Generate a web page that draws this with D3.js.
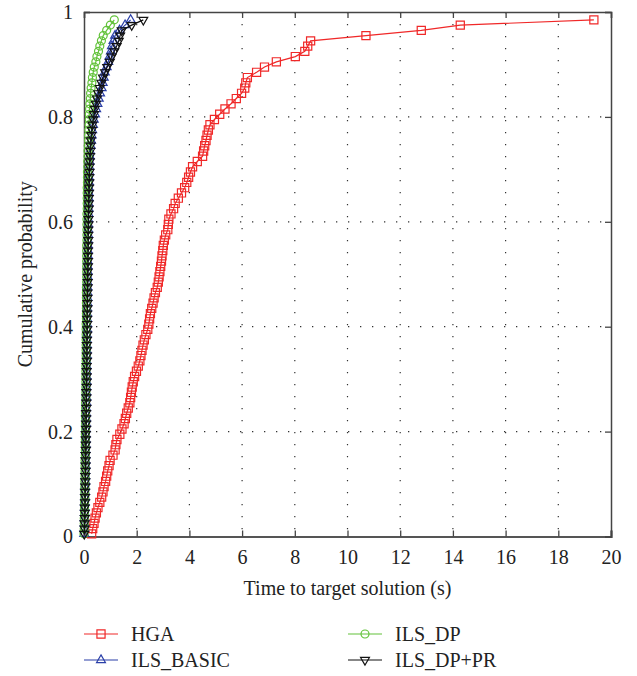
<!DOCTYPE html>
<html>
	<head>
		<meta charset="utf-8">
		<title>Cumulative probability - time to target</title>
		<script src="https://d3js.org/d3.v7.min.js" charset="utf-8"></script>
	</head>
	<style>
		body {
			margin: 0;
			background: #fff;
		}
		text {
			font-family: "Liberation Serif", "DejaVu Serif", serif;
			fill: #222;
		}
		.grid line {
			stroke: #333;
			stroke-width: 1.2;
			stroke-dasharray: 1.3, 10.7;
		}
	</style>
<body>
	<svg></svg>
</body>
<script>

// probability levels of the empirical distributions
var probs = [0.005, 0.015, 0.025, 0.035, 0.045, 0.055, 0.065, 0.075, 0.085, 0.095,
	0.105, 0.115, 0.125, 0.135, 0.145, 0.155, 0.165, 0.175, 0.185, 0.195,
	0.205, 0.215, 0.225, 0.235, 0.245, 0.255, 0.265, 0.275, 0.285, 0.295,
	0.305, 0.315, 0.325, 0.335, 0.345, 0.355, 0.365, 0.375, 0.385, 0.395,
	0.405, 0.415, 0.425, 0.435, 0.445, 0.455, 0.465, 0.475, 0.485, 0.495,
	0.505, 0.515, 0.525, 0.535, 0.545, 0.555, 0.565, 0.575, 0.585, 0.595,
	0.605, 0.615, 0.625, 0.635, 0.645, 0.655, 0.665, 0.675, 0.685, 0.695,
	0.705, 0.715, 0.725, 0.735, 0.745, 0.755, 0.765, 0.775, 0.785, 0.795,
	0.805, 0.815, 0.825, 0.835, 0.845, 0.855, 0.865, 0.875, 0.885, 0.895,
	0.905, 0.915, 0.925, 0.935, 0.945, 0.955, 0.965, 0.975, 0.985];

// times (s) for each probability level
var hgaTimes = [0.29, 0.33, 0.38, 0.42, 0.47, 0.53, 0.60, 0.67, 0.72, 0.76,
	0.82, 0.86, 0.90, 0.95, 0.99, 1.10, 1.18, 1.21, 1.25, 1.36,
	1.44, 1.52, 1.57, 1.62, 1.68, 1.74, 1.77, 1.80, 1.83, 1.87,
	1.92, 1.99, 2.06, 2.12, 2.16, 2.20, 2.24, 2.29, 2.35, 2.42,
	2.46, 2.49, 2.52, 2.57, 2.62, 2.66, 2.71, 2.78, 2.82, 2.85,
	2.88, 2.91, 2.94, 2.96, 2.99, 3.01, 3.05, 3.10, 3.18, 3.20,
	3.22, 3.30, 3.40, 3.46, 3.58, 3.70, 3.82, 3.90, 3.97, 4.04,
	4.12, 4.30, 4.50, 4.54, 4.58, 4.63, 4.67, 4.72, 4.78, 4.95,
	5.15, 5.35, 5.58, 5.78, 5.98, 6.10, 6.14, 6.20, 6.55, 6.85,
	7.30, 8.02, 8.38, 8.49, 8.60, 10.70, 12.80, 14.28, 19.35];

var basicTimes = [0.01, 0.01, 0.02, 0.02, 0.03, 0.03, 0.03, 0.04, 0.04, 0.04,
	0.05, 0.05, 0.05, 0.06, 0.06, 0.06, 0.06, 0.07, 0.07, 0.07,
	0.07, 0.08, 0.08, 0.08, 0.08, 0.09, 0.09, 0.09, 0.09, 0.10,
	0.10, 0.10, 0.10, 0.10, 0.11, 0.11, 0.11, 0.11, 0.11, 0.12,
	0.12, 0.12, 0.12, 0.12, 0.13, 0.13, 0.13, 0.13, 0.13, 0.14,
	0.14, 0.14, 0.14, 0.15, 0.15, 0.15, 0.15, 0.16, 0.16, 0.16,
	0.16, 0.17, 0.17, 0.17, 0.18, 0.18, 0.18, 0.19, 0.19, 0.20,
	0.20, 0.21, 0.22, 0.23, 0.25, 0.27, 0.29, 0.31, 0.34, 0.37,
	0.42, 0.46, 0.51, 0.56, 0.61, 0.67, 0.71, 0.75, 0.79, 0.86,
	0.92, 0.97, 1.02, 1.06, 1.12, 1.18, 1.35, 1.56, 1.77];

var dpTimes = [0.00, 0.01, 0.01, 0.01, 0.02, 0.02, 0.02, 0.03, 0.03, 0.03,
	0.03, 0.04, 0.04, 0.04, 0.04, 0.05, 0.05, 0.05, 0.05, 0.05,
	0.06, 0.06, 0.06, 0.06, 0.06, 0.06, 0.07, 0.07, 0.07, 0.07,
	0.07, 0.07, 0.07, 0.08, 0.08, 0.08, 0.08, 0.08, 0.08, 0.08,
	0.08, 0.09, 0.09, 0.09, 0.09, 0.09, 0.09, 0.09, 0.10, 0.10,
	0.10, 0.10, 0.10, 0.10, 0.10, 0.10, 0.11, 0.11, 0.11, 0.11,
	0.11, 0.11, 0.12, 0.12, 0.12, 0.12, 0.12, 0.13, 0.13, 0.13,
	0.14, 0.14, 0.15, 0.15, 0.16, 0.17, 0.17, 0.18, 0.19, 0.20,
	0.20, 0.21, 0.22, 0.24, 0.25, 0.27, 0.30, 0.32, 0.35, 0.39,
	0.45, 0.49, 0.55, 0.60, 0.66, 0.73, 0.86, 1.00, 1.15];

var dpprTimes = [0.01, 0.02, 0.02, 0.03, 0.03, 0.03, 0.04, 0.04, 0.04, 0.05,
	0.05, 0.05, 0.06, 0.06, 0.06, 0.06, 0.07, 0.07, 0.07, 0.07,
	0.08, 0.08, 0.08, 0.08, 0.09, 0.09, 0.09, 0.09, 0.10, 0.10,
	0.10, 0.10, 0.10, 0.11, 0.11, 0.11, 0.11, 0.11, 0.12, 0.12,
	0.12, 0.12, 0.12, 0.13, 0.13, 0.13, 0.13, 0.14, 0.14, 0.14,
	0.14, 0.15, 0.15, 0.15, 0.15, 0.16, 0.16, 0.16, 0.16, 0.17,
	0.17, 0.17, 0.18, 0.18, 0.18, 0.19, 0.19, 0.20, 0.20, 0.21,
	0.21, 0.22, 0.23, 0.24, 0.25, 0.26, 0.28, 0.30, 0.32, 0.35,
	0.38, 0.41, 0.45, 0.49, 0.54, 0.60, 0.66, 0.72, 0.80, 0.88,
	0.98, 1.05, 1.15, 1.24, 1.32, 1.37, 1.43, 1.81, 2.25];

var seriesNames = ["HGA", "ILS_BASIC", "ILS_DP", "ILS_DP+PR"];
var seriesColors = ["#f02828", "#2a3fa8", "#62c23a", "#111111"];
var seriesTimes = [hgaTimes, basicTimes, dpTimes, dpprTimes];

var xTicks = [0, 2, 4, 6, 8, 10, 12, 14, 16, 18, 20];
var yTicks = [0, 0.2, 0.4, 0.6, 0.8, 1];

var config = {
	"width": 637,
	"height": 676,
	"left": 84,
	"right": 611,
	"top": 12,
	"bottom": 536.5,
	"font": 20
}

var svg = d3.select("svg")
	.attr("width", config.width)
	.attr("height", config.height);

var x = d3.scaleLinear().domain([0, 20]).range([config.left, config.right]);
var y = d3.scaleLinear().domain([0, 1]).range([config.bottom, config.top]);

// marker shapes
var markers = [
	d3.symbol().type(d3.symbolSquare).size(66),
	d3.symbol().type(d3.symbolTriangle).size(34),
	d3.symbol().type(d3.symbolCircle).size(50),
	d3.symbol().type(d3.symbolTriangle).size(34)
];
var markerRotate = [0, 0, 0, 180];

// dotted grid
var grid = svg.append("g").attr("class", "grid");
grid.selectAll("line.v")
	.data(xTicks.slice(1, -1))
	.enter().append("line")
		.attr("x1", function(d) { return x(d); })
		.attr("x2", function(d) { return x(d); })
		.attr("y1", config.top)
		.attr("y2", config.bottom);
grid.selectAll("line.h")
	.data(yTicks.slice(1, -1))
	.enter().append("line")
		.attr("x1", config.left)
		.attr("x2", config.right)
		.attr("y1", function(d) { return y(d); })
		.attr("y2", function(d) { return y(d); });

// axes with inward ticks
var xAxis = svg.append("g")
	.attr("transform", `translate(0,${config.bottom})`)
	.call(d3.axisBottom(x).tickValues(xTicks).tickSize(-6).tickPadding(13).tickFormat(d3.format("d")));
var xAxisTop = svg.append("g")
	.attr("transform", `translate(0,${config.top})`)
	.call(d3.axisTop(x).tickValues(xTicks).tickSize(-6).tickFormat(""));
var yAxis = svg.append("g")
	.attr("transform", `translate(${config.left},0)`)
	.call(d3.axisLeft(y).tickValues(yTicks).tickSize(-6).tickPadding(11).tickFormat(function(d) { return d === 0 || d === 1 ? d : d3.format(".1f")(d); }));
var yAxisRight = svg.append("g")
	.attr("transform", `translate(${config.right},0)`)
	.call(d3.axisRight(y).tickValues(yTicks).tickSize(-6).tickFormat(""));

[xAxis, xAxisTop, yAxis, yAxisRight].forEach(function(a) {
	a.select(".domain").attr("stroke", "#444").attr("stroke-width", 1.5);
	a.selectAll(".tick line").attr("stroke", "#444").attr("stroke-width", 1.3);
	a.selectAll("text")
		.attr("font-family", "Liberation Serif, DejaVu Serif, serif")
		.attr("font-size", config.font)
		.attr("fill", "#222");
});
xAxis.select(".domain").attr("stroke", "#555").attr("stroke-width", 2.2);

// axis titles
svg.append("text")
	.attr("x", (config.left + config.right) / 2)
	.attr("y", 595)
	.attr("text-anchor", "middle")
	.attr("font-size", config.font)
	.text("Time to target solution (s)");

svg.append("text")
	.attr("transform", `translate(32,${(config.top + config.bottom) / 2}) rotate(-90)`)
	.attr("text-anchor", "middle")
	.attr("font-size", config.font)
	.text("Cumulative probability");

// series
var line = d3.line()
	.x(function(d) { return x(d[0]); })
	.y(function(d) { return y(d[1]); });

seriesTimes.forEach(function(times, s) {
	var pts = times.map(function(t, i) { return [t, probs[i]]; });
	var g = svg.append("g");
	g.append("path")
		.datum(pts)
		.attr("d", line)
		.attr("fill", "none")
		.attr("stroke", seriesColors[s])
		.attr("stroke-width", 1.2);
	g.selectAll("path.mk")
		.data(pts)
		.enter().append("path")
			.attr("class", "mk")
			.attr("d", markers[s])
			.attr("transform", function(d) { return `translate(${x(d[0])},${y(d[1])}) rotate(${markerRotate[s]})`; })
			.attr("fill", "none")
			.attr("stroke", seriesColors[s])
			.attr("stroke-width", 1.2);
});

// legend (two columns)
var legendPos = [[84, 634], [84, 660], [348, 634], [348, 660]];
var legend = svg.append("g")
	.selectAll("g")
	.data(seriesNames)
	.enter().append("g")
		.attr("transform", function(d, i) { return `translate(${legendPos[i][0]},${legendPos[i][1]})`; });

legend.append("line")
	.attr("x1", 0)
	.attr("x2", 34)
	.attr("stroke", function(d, i) { return seriesColors[i]; })
	.attr("stroke-width", 1.2);
legend.append("path")
	.attr("d", function(d, i) { return markers[i](); })
	.attr("transform", function(d, i) { return `translate(17,0) rotate(${markerRotate[i]})`; })
	.attr("fill", "none")
	.attr("stroke", function(d, i) { return seriesColors[i]; })
	.attr("stroke-width", 1.2);
legend.append("text")
	.attr("x", 47)
	.attr("dy", "0.35em")
	.attr("font-size", config.font)
	.text(function(d) { return d; });

</script>
</html>
